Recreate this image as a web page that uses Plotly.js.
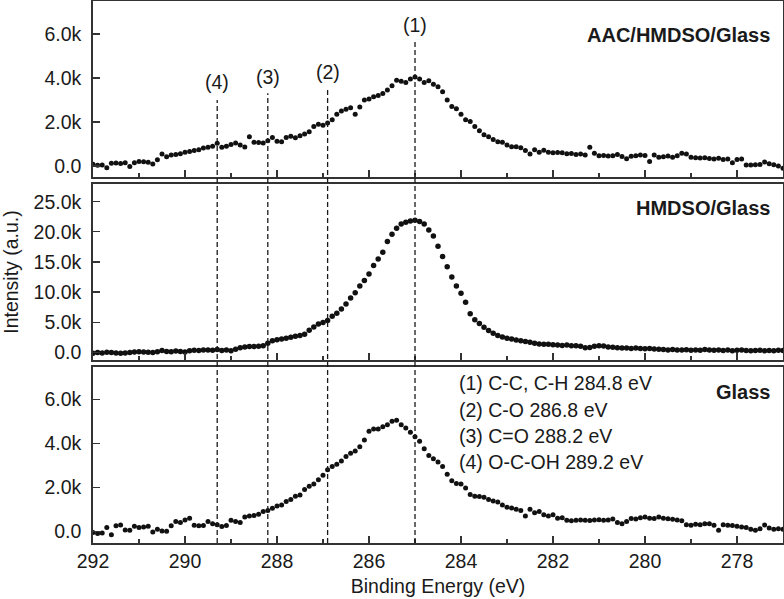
<!DOCTYPE html>
<html>
<head>
<meta charset="utf-8">
<script src="https://cdn.plot.ly/plotly-3.0.1.min.js"></script>
<style>html,body{margin:0;padding:0;background:#fff;}#chart{width:784px;height:599px;}</style>
</head>
<body>
<div id="chart"></div>
<script>
// Binding energy grid (eV), from 292.0 down to 277.0
const bindingEnergy = [
  292.0,291.9,291.8,291.7,291.6,291.5,291.4,291.3,291.2,291.1,
  291.0,290.9,290.8,290.7,290.6,290.5,290.4,290.3,290.2,290.1,
  290.0,289.9,289.8,289.7,289.6,289.5,289.4,289.3,289.2,289.1,
  289.0,288.9,288.8,288.7,288.6,288.5,288.4,288.3,288.2,288.1,
  288.0,287.9,287.8,287.7,287.6,287.5,287.4,287.3,287.2,287.1,
  287.0,286.9,286.8,286.7,286.6,286.5,286.4,286.3,286.2,286.1,
  286.0,285.9,285.8,285.7,285.6,285.5,285.4,285.3,285.2,285.1,
  285.0,284.9,284.8,284.7,284.6,284.5,284.4,284.3,284.2,284.1,
  284.0,283.9,283.8,283.7,283.6,283.5,283.4,283.3,283.2,283.1,
  283.0,282.9,282.8,282.7,282.6,282.5,282.4,282.3,282.2,282.1,
  282.0,281.9,281.8,281.7,281.6,281.5,281.4,281.3,281.2,281.1,
  281.0,280.9,280.8,280.7,280.6,280.5,280.4,280.3,280.2,280.1,
  280.0,279.9,279.8,279.7,279.6,279.5,279.4,279.3,279.2,279.1,
  279.0,278.9,278.8,278.7,278.6,278.5,278.4,278.3,278.2,278.1,
  278.0,277.9,277.8,277.7,277.6,277.5,277.4,277.3,277.2,277.1,
  277.0
];

// AAC/HMDSO/Glass (top panel)
const intensityAAC = [
  80,30,50,-80,120,140,110,150,-20,150,
  200,190,170,90,280,540,420,500,520,560,
  620,660,700,740,820,850,900,1030,850,900,
  980,1050,950,860,1330,1080,1070,1050,1150,1290,
  1120,1100,1300,1350,1280,1380,1450,1560,1800,1900,
  1850,1950,2100,2350,2500,2580,2650,2350,2680,3000,
  3050,3150,3200,3300,3450,3650,3900,3850,3800,3950,
  4050,3950,3800,3880,3720,3600,3380,3000,2700,2600,
  2350,2100,2020,1800,1600,1420,1330,1200,1100,1080,
  950,880,870,830,700,550,740,620,720,620,
  600,610,600,560,570,520,540,500,850,580,
  470,480,450,470,520,430,330,440,470,500,
  480,200,500,400,420,450,400,460,580,540,
  400,380,360,370,340,320,350,300,320,150,
  300,320,50,40,60,70,180,100,60,0,
  -100
];

// HMDSO/Glass (middle panel)
const intensityHMDSO = [
  -150,-50,-100,0,-50,-100,-150,-100,-50,50,
  100,50,0,-50,100,300,150,100,200,150,
  50,250,350,300,380,400,350,450,300,400,
  250,500,750,900,950,950,1000,1100,1500,1900,
  2100,2200,2350,2500,2650,2800,3000,3650,4200,4700,
  4950,5300,6000,6500,7200,8000,9000,9900,11000,11900,
  13000,14400,15500,16600,18400,19600,20600,21300,21600,21800,
  21900,21700,21300,20300,19300,17600,15900,14200,12500,11000,
  9800,8300,6400,5400,4800,4150,3600,3150,2800,2550,
  2350,2200,2050,1900,1800,1650,1500,1400,1350,1350,
  1250,1200,1150,1200,1100,1100,1000,750,800,1000,
  1100,1050,900,850,750,700,700,650,700,650,
  600,650,550,500,450,400,450,400,380,420,
  350,400,350,450,380,350,400,300,380,250,
  350,400,300,250,300,350,250,300,250,350,
  300
];

// Glass (bottom panel)
const intensityGlass = [
  -50,-100,-80,180,-150,250,290,60,50,230,
  180,200,230,-30,100,20,0,250,450,400,
  520,600,280,250,260,450,350,300,220,260,
  500,450,400,650,700,720,780,900,950,1050,
  1150,1200,1360,1450,1590,1650,1900,2050,2150,2350,
  2550,2800,2950,3050,3200,3400,3550,3650,3850,4150,
  4550,4650,4650,4750,4850,5000,5050,4850,4700,4500,
  4300,4100,3750,3450,3300,3150,2950,2600,2300,2180,
  2150,1970,1680,1600,1580,1550,1450,1380,1330,1200,
  1100,1060,1000,950,700,1000,850,900,750,700,
  750,600,620,500,480,500,520,500,490,520,
  530,500,510,560,400,350,450,580,560,620,
  650,600,580,650,600,570,550,520,480,300,
  280,320,300,350,340,280,50,300,280,260,
  230,200,180,100,50,120,290,150,100,120,
  100
];

const panelNames = ['Glass', 'HMDSO/Glass', 'AAC/HMDSO/Glass'];

// Reference peak positions (eV) and their labels
const peakPositions = [285.0, 286.9, 288.2, 289.3];
const peakLabels = ['(1)', '(2)', '(3)', '(4)'];
const assignmentLines = [
  '(1) C-C, C-H 284.8 eV',
  '(2) C-O 286.8 eV',
  '(3) C=O 288.2 eV',
  '(4) O-C-OH 289.2 eV'
];

// Tick definitions
const xMajorTicks = [292, 290, 288, 286, 284, 282, 280, 278];
const xMinorTicks = [291, 289, 287, 285, 283, 281, 279, 277];
const ySmallTickVals = [0, 2000, 4000, 6000];
const ySmallTickText = ['0.0', '2.0k', '4.0k', '6.0k'];
const yLargeTickVals = [0, 5000, 10000, 15000, 20000, 25000];
const yLargeTickText = ['0.0', '5.0k', '10.0k', '15.0k', '20.0k', '25.0k'];

// ---------- styling ----------
const FONT = 'Liberation Sans, Arial, Helvetica, sans-serif';
const TXT = '#1a1a1a';
const FS = 19.5;
const frameColor = '#333333';
const markerColor = '#111111';

function scatter(y, xa, ya, size) {
  return {
    type: 'scatter', mode: 'markers', x: bindingEnergy, y: y,
    xaxis: xa, yaxis: ya,
    marker: {color: markerColor, size: size, symbol: 'circle', line: {width: 0}},
    hoverinfo: 'x+y'
  };
}

const traces = [
  scatter(intensityGlass, 'x', 'y', 5),
  scatter(intensityHMDSO, 'x2', 'y2', 5.5),
  scatter(intensityAAC, 'x3', 'y3', 5)
];

function xAxis(anchor, showLabels) {
  return {
    anchor: anchor, domain: [0, 1], range: [292, 277],
    showline: true, linecolor: frameColor, linewidth: 1.8, mirror: true,
    ticks: 'inside', ticklen: 7, tickwidth: 1.3, tickcolor: frameColor,
    tickmode: 'array', tickvals: xMajorTicks, ticktext: xMajorTicks.map(String),
    minor: {ticks: 'inside', ticklen: 4, tickwidth: 1.1, tickcolor: frameColor, tickmode: 'array', tickvals: xMinorTicks, showgrid: false},
    showticklabels: showLabels,
    showgrid: false, zeroline: false,
    tickfont: {family: FONT, size: FS, color: TXT}
  };
}

function yAxis(anchor, domain, range, vals, text) {
  return {
    anchor: anchor, domain: domain, range: range,
    showline: true, linecolor: frameColor, linewidth: 1.8, mirror: true,
    ticks: 'inside', ticklen: 7, tickwidth: 1.3, tickcolor: frameColor,
    tickmode: 'array', tickvals: vals, ticktext: text,
    showgrid: false, zeroline: false,
    ticklabelstandoff: 6,
    tickfont: {family: FONT, size: FS, color: TXT}
  };
}

const xa1 = xAxis('y', true);
xa1.title = {text: 'Binding Energy (eV)', font: {family: FONT, size: FS, color: TXT}, standoff: 8};

const ya2 = yAxis('x2', [0.3376, 0.6624], [-1280, 27940], yLargeTickVals, yLargeTickText);
ya2.title = {text: 'Intensity (a.u.)', font: {family: FONT, size: FS, color: TXT}, standoff: 10};

// dashed line tops (paper coords) for each peak marker line
const lineTops = [0.928, 0.8395, 0.830, 0.8173];
const labelHeights = [0.9557, 0.869, 0.860, 0.8506];

const shapes = peakPositions.map((p, i) => ({
  type: 'line', xref: 'x', yref: 'paper', x0: p, x1: p, y0: 0, y1: lineTops[i],
  line: {color: TXT, width: 1.3, dash: '5px,3px'}
}));

const annotations = [];
peakPositions.forEach((p, i) => {
  annotations.push({
    xref: 'x', yref: 'paper', x: p, y: labelHeights[i], text: peakLabels[i],
    showarrow: false, xanchor: 'center', yanchor: 'middle',
    font: {family: FONT, size: FS, color: TXT}
  });
});
const panelRefs = [['x domain', 'y domain', 0.858], ['x2 domain', 'y2 domain', 0.864], ['x3 domain', 'y3 domain', 0.807]];
panelNames.forEach((name, i) => {
  annotations.push({
    xref: panelRefs[i][0], yref: panelRefs[i][1], x: 0.984, y: panelRefs[i][2],
    text: '<b>' + name + '</b>', showarrow: false, xanchor: 'right', yanchor: 'middle',
    font: {family: FONT, size: 20, color: TXT}
  });
});
const assignY = [0.909, 0.756, 0.608, 0.460];
assignmentLines.forEach((t, i) => {
  annotations.push({
    xref: 'x domain', yref: 'y domain', x: 0.5275, y: assignY[i], text: t,
    showarrow: false, xanchor: 'left', yanchor: 'middle',
    font: {family: FONT, size: FS, color: TXT}
  });
});

const layout = {
  width: 784, height: 599,
  margin: {l: 93, r: 1, t: 1, b: 56, pad: 0},
  paper_bgcolor: '#ffffff', plot_bgcolor: '#ffffff',
  showlegend: false,
  font: {family: FONT, size: FS, color: TXT},
  xaxis: xa1,
  xaxis2: xAxis('y2', false),
  xaxis3: xAxis('y3', false),
  yaxis: yAxis('x', [0, 0.3247], [-530, 7470], ySmallTickVals, ySmallTickText),
  yaxis2: ya2,
  yaxis3: yAxis('x3', [0.6753, 1], [-500, 7500], ySmallTickVals, ySmallTickText),
  shapes: shapes,
  annotations: annotations
};

Plotly.newPlot('chart', traces, layout, {displayModeBar: false, staticPlot: true});
</script>
</body>
</html>
